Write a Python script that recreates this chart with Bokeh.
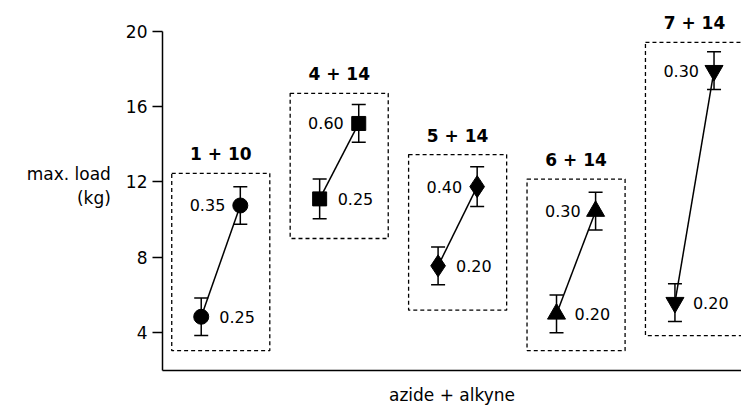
import numpy as np
from bokeh.plotting import figure
from bokeh.models import ColumnDataSource, Whisker, TeeHead, FixedTicker, Range1d
from bokeh.core.properties import value
from bokeh.embed import file_html
from bokeh.resources import INLINE

# ---- data ----
groups = ["1 + 10", "4 + 14", "5 + 14", "6 + 14", "7 + 14"]
low_load = [4.85, 11.1, 7.55, 5.0, 5.6]
low_err = [1.0, 1.05, 1.0, 1.0, 1.0]
high_load = [10.75, 15.1, 11.75, 10.45, 17.9]
high_err = [1.0, 1.0, 1.05, 1.0, 1.0]
low_conc = ["0.25", "0.25", "0.20", "0.20", "0.20"]
high_conc = ["0.35", "0.60", "0.40", "0.30", "0.30"]
box_bottom = [3.05, 9.0, 5.2, 3.05, 3.85]
box_top = [12.45, 16.7, 13.45, 12.15, 19.4]
markers = ["circle", "square", "diamond", "triangle", "inverted_triangle"]
y_ticks = [4, 8, 12, 16, 20]
y_title = "max. load\n(kg)"
x_title = "azide + alkyne"

# ---- styles ----
FONT = "DejaVu Sans"
marker_size = {"circle": 15, "square": 14, "diamond": 22,
               "triangle": 18, "inverted_triangle": 18}

idx = np.arange(len(groups), dtype=float)
low_x = idx - 0.165
high_x = idx + 0.165

p = figure(width=741, height=407,
           x_range=Range1d(-0.492, 4.397), y_range=Range1d(2, 21.62),
           output_backend="svg", toolbar_location=None,
           min_border_left=162, min_border_right=0,
           min_border_top=0, min_border_bottom=36)
p.outline_line_color = None
p.grid.visible = False
p.background_fill_color = "white"
p.border_fill_color = "white"

# dashed boxes
p.quad(left=idx - 0.414, right=idx + 0.414, bottom=box_bottom, top=box_top,
       fill_color=None, line_color="black", line_width=1.3, line_dash="4 3")

# group titles
p.text(x=idx, y=box_top, text=groups, y_offset=-19,
       text_align="center", text_baseline="middle",
       text_font=value(FONT), text_font_size="17px", text_font_style="bold",
       text_color="black")

# connecting lines
p.segment(x0=low_x, y0=low_load, x1=high_x, y1=high_load,
          line_color="black", line_width=1.5)

# error bars
xs = list(low_x) + list(high_x)
ys = list(low_load) + list(high_load)
errs = list(low_err) + list(high_err)
src = ColumnDataSource(dict(
    x=xs, y=ys,
    upper=[y + e for y, e in zip(ys, errs)],
    lower=[y - e for y, e in zip(ys, errs)],
    marker=markers + markers,
    size=[marker_size[m] for m in markers + markers],
))
w = Whisker(source=src, base="x", upper="upper", lower="lower",
            dimension="height", line_color="black", line_width=1.5,
            upper_head=TeeHead(size=14, line_width=1.5, line_color="black"),
            lower_head=TeeHead(size=14, line_width=1.5, line_color="black"))
p.add_layout(w)

# markers
p.scatter(x="x", y="y", marker="marker", size="size", source=src,
          fill_color="black", line_color="black")

# concentration labels
p.text(x=low_x, y=low_load, text=low_conc, x_offset=18,
       text_align="left", text_baseline="middle",
       text_font=value(FONT), text_font_size="16px", text_color="black")
p.text(x=high_x, y=high_load, text=high_conc, x_offset=-15,
       text_align="right", text_baseline="middle",
       text_font=value(FONT), text_font_size="16px", text_color="black")

# y axis
ya = p.yaxis[0]
ya.ticker = FixedTicker(ticks=y_ticks)
ya.bounds = (2, 20)
ya.major_tick_out = 10
ya.major_tick_in = 0
ya.minor_tick_out = 0
ya.minor_tick_in = 0
ya.major_label_standoff = 5
ya.axis_line_width = 1.5
ya.major_tick_line_width = 1.5
ya.major_label_text_font = FONT
ya.major_label_text_font_size = "17px"
ya.major_label_text_color = "black"
ya.axis_label = y_title
ya.axis_label_orientation = "horizontal"
ya.axis_label_standoff = 12
ya.axis_label_text_font = FONT
ya.axis_label_text_font_size = "17px"
ya.axis_label_text_font_style = "normal"
ya.axis_label_text_color = "black"
ya.axis_label_text_align = "center"

# x axis
xa = p.xaxis[0]
xa.ticker = FixedTicker(ticks=[])
xa.major_tick_out = 0
xa.major_tick_in = 0
xa.minor_tick_out = 0
xa.minor_tick_in = 0
xa.major_label_standoff = 0
xa.axis_line_width = 1.5
xa.axis_label = x_title
xa.axis_label_standoff = 14
xa.axis_label_text_font = FONT
xa.axis_label_text_font_size = "17px"
xa.axis_label_text_font_style = "normal"
xa.axis_label_text_color = "black"

open("out.html", "w").write(file_html(p, INLINE))
